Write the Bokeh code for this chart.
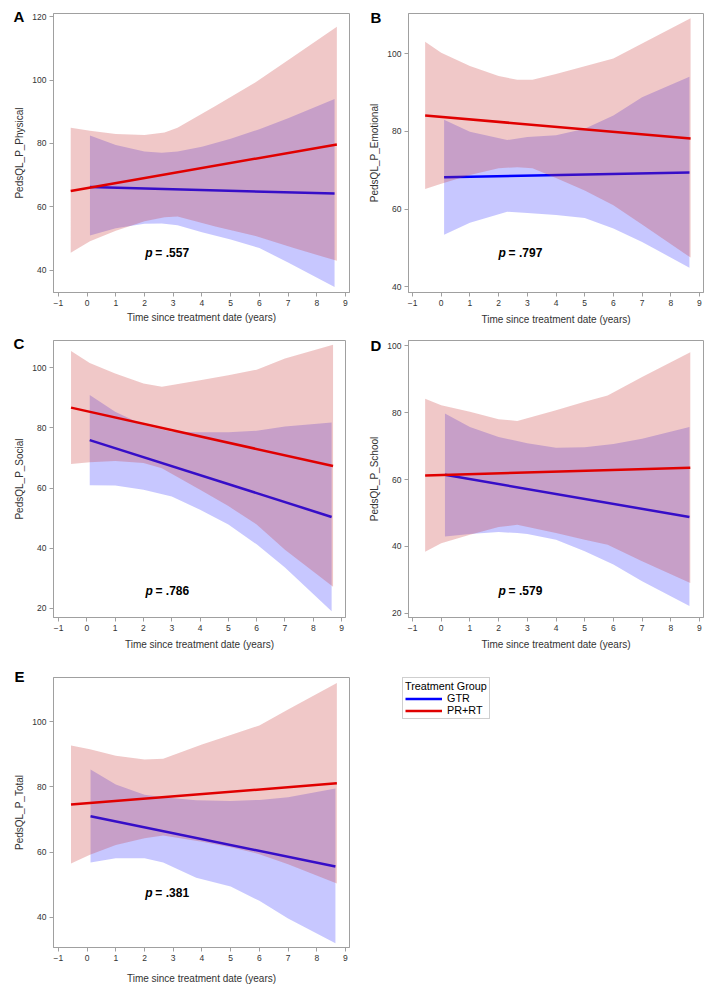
from bokeh.plotting import figure
from bokeh.layouts import column, row
from bokeh.models import (Range1d, SingleIntervalTicker, Label, Legend,
                          LegendItem, Spacer)
from bokeh.embed import file_html
from bokeh.resources import INLINE

# ---------------- data ----------------
# Panel A: PedsQL_P_Physical
A_red_x = [-0.57, 0.1, 1, 2, 2.7, 3.15, 4.5, 5.87, 7.2, 8.7]
A_red_up = [85, 84, 83, 82.7, 83.5, 85, 92, 99.3, 107.5, 116.8]
A_red_lo = [45.5, 49.2, 52.5, 55.5, 56.7, 57, 53.7, 50.8, 47, 43]
A_blue_x = [0.1, 1, 2, 2.6, 3.15, 4, 5, 6, 7, 8.62]
A_blue_up = [82.5, 79.5, 77.5, 77.1, 77.5, 79, 81.5, 84.5, 88, 94]
A_blue_lo = [51, 53.3, 54.7, 54.8, 54.2, 52, 49.7, 47, 42.5, 34.7]
A_red_line_x = [-0.57, 8.7]
A_red_line_y = [65, 79.7]
A_blue_line_x = [0.1, 8.62]
A_blue_line_y = [66.3, 64.2]

# Panel B: PedsQL_P_Emotional
B_red_x = [-0.56, 0, 1, 2, 2.65, 3.18, 4, 5, 6, 7, 8.69]
B_red_up = [103.1, 100.3, 96.9, 94.3, 93.3, 93.3, 94.8, 96.8, 98.8, 102.7, 109.2]
B_red_lo = [65.2, 66.5, 68.8, 70.5, 70.8, 70.5, 68, 64.8, 61, 56, 47.5]
B_blue_x = [0.1, 1, 2.3, 3, 4, 5, 6, 7, 7.5, 8.65]
B_blue_up = [83, 79.9, 77.8, 78.6, 79, 80.7, 84.1, 88.8, 90.4, 94.1]
B_blue_lo = [53.4, 56.5, 59.3, 59, 58.5, 57.7, 55, 51.5, 49.5, 44.9]
B_red_line_x = [-0.56, 8.69]
B_red_line_y = [84.1, 78.2]
B_blue_line_x = [0.1, 8.65]
B_blue_line_y = [68.2, 69.4]

# Panel C: PedsQL_P_Social
C_red_x = [-0.56, 0.1, 1, 2, 2.65, 4, 5, 6, 7, 8.7]
C_red_up = [105.5, 101.5, 98, 94.7, 93.6, 95.8, 97.5, 99.3, 103, 107.6]
C_red_lo = [68, 68.6, 69, 68.3, 66.6, 59.4, 54, 47.9, 39.5, 27.2]
C_blue_x = [0.1, 1, 2, 3, 4, 5, 6, 7, 8.65]
C_blue_up = [90.9, 85.3, 80.9, 78.7, 78.5, 78.5, 79, 80.4, 81.8]
C_blue_lo = [60.9, 60.8, 59.4, 57.2, 52.8, 47.9, 41.3, 33.6, 19.1]
C_red_line_x = [-0.56, 8.7]
C_red_line_y = [86.7, 67.3]
C_blue_line_x = [0.1, 8.65]
C_blue_line_y = [75.9, 50.4]

# Panel D: PedsQL_P_School
D_red_x = [-0.56, 0, 1, 2, 2.65, 4, 5, 5.8, 7, 8.68]
D_red_up = [84.1, 82.2, 80.2, 78, 77.5, 80.7, 83.2, 85.1, 90.6, 98]
D_red_lo = [38.4, 41, 43.5, 45.8, 46.5, 44, 42, 40.5, 35.6, 29.1]
D_blue_x = [0.13, 1, 2, 2.65, 3, 4, 5, 6, 7, 8.65]
D_blue_up = [79.7, 75.7, 72.7, 71.5, 70.8, 69.5, 69.6, 70.6, 72.2, 75.7]
D_blue_lo = [43, 43.7, 44.3, 44, 43.7, 42, 38.6, 34.6, 29.6, 22.2]
D_red_line_x = [-0.56, 8.68]
D_red_line_y = [61.2, 63.5]
D_blue_line_x = [0.13, 8.65]
D_blue_line_y = [61.4, 48.8]

# Panel E: PedsQL_P_Total
E_red_x = [-0.56, 0.1, 1, 2, 2.65, 4, 5, 6, 7, 8.7]
E_red_up = [92.7, 91.5, 89.5, 88.4, 88.6, 93, 95.9, 98.8, 103.7, 111.8]
E_red_lo = [56.5, 59.2, 62.2, 64.3, 65.1, 63.2, 61.5, 59.4, 56.3, 50.4]
E_blue_x = [0.12, 1, 2, 2.65, 3.8, 5, 6, 7, 8.65]
E_blue_up = [85.3, 80.7, 77.6, 76.8, 75.9, 75.7, 76, 76.8, 79.5]
E_blue_lo = [56.8, 58.1, 58.1, 56.8, 52.2, 49.5, 45.1, 39.7, 32.1]
E_red_line_x = [-0.56, 8.7]
E_red_line_y = [74.6, 81.1]
E_blue_line_x = [0.12, 8.65]
E_blue_line_y = [71, 55.6]

letters = ["A", "B", "C", "D", "E"]
y_titles = ["PedsQL_P_Physical", "PedsQL_P_Emotional", "PedsQL_P_Social",
            "PedsQL_P_School", "PedsQL_P_Total"]
p_values = ["= .557", "= .797", "= .786", "= .579", "= .381"]
groups = ["GTR", "PR+RT"]
x_title = "Time since treatment date (years)"

# ---------------- styling / layout ----------------
FONT = "Liberation Sans"
GRAY = "#a0a0a0"
TXT = "#333333"
BLUE_LINE = "#0000FF"
RED_LINE = "#E00000"
BLUE_FILL = "#0000FF"
RED_FILL = "#C83535"


def make_panel(idx, data, xr, yr, geom, p_pos, letter_off, xstand):
    w, h, bl, br, bt, bb = geom
    p = figure(width=w, height=h, output_backend="svg", toolbar_location=None,
               x_range=Range1d(*xr), y_range=Range1d(*yr),
               min_border_left=bl, min_border_right=br,
               min_border_top=bt, min_border_bottom=bb,
               background_fill_color="white", border_fill_color="white",
               outline_line_color=GRAY, outline_line_width=1)
    p.xgrid.visible = False
    p.ygrid.visible = False
    p.xaxis.ticker = SingleIntervalTicker(interval=1)
    p.yaxis.ticker = SingleIntervalTicker(interval=20)
    for ax in (p.xaxis[0], p.yaxis[0]):
        ax.axis_line_color = GRAY
        ax.major_tick_line_color = GRAY
        ax.minor_tick_line_color = None
        ax.major_tick_out = 4
        ax.major_tick_in = 0
        ax.major_label_text_font = FONT
        ax.major_label_text_font_size = "8.5px"
        ax.major_label_text_color = TXT
        ax.major_label_standoff = 3
        ax.axis_label_text_font = FONT
        ax.axis_label_text_font_size = "10px"
        ax.axis_label_text_font_style = "normal"
        ax.axis_label_text_color = TXT
    p.xaxis.axis_label_standoff = xstand
    p.yaxis.axis_label_standoff = 4
    p.xaxis.axis_label = x_title
    p.yaxis.axis_label = y_titles[idx]

    (rx, rup, rlo, bx, bup, blo, rlx, rly, blx, bly) = data
    p.varea(x=bx, y1=blo, y2=bup, fill_color=BLUE_FILL, fill_alpha=0.22)
    p.line(blx, bly, line_color=BLUE_LINE, line_width=2.5)
    p.varea(x=rx, y1=rlo, y2=rup, fill_color=RED_FILL, fill_alpha=0.27)
    p.line(rlx, rly, line_color=RED_LINE, line_width=2.5)

    px, py = p_pos
    p.add_layout(Label(x=px, y=py, text="p", text_font=FONT,
                       text_font_size="12px", text_font_style="bold italic",
                       text_baseline="middle", text_color="black"))
    p.add_layout(Label(x=px, y=py, x_offset=10, text=p_values[idx],
                       text_font=FONT, text_font_size="12px",
                       text_font_style="bold", text_baseline="middle",
                       text_color="black"))
    # panel letter in the left side panel (not clipped by the frame)
    frame_h = h - bt - bb
    dx, dy = letter_off
    p.add_layout(Label(x=dx, y=frame_h + dy, x_units="screen", y_units="screen",
                       text=letters[idx], text_font=FONT,
                       text_font_size="15px", text_font_style="bold",
                       text_baseline="top", text_color="black"), "left")
    return p


pA = make_panel(0, (A_red_x, A_red_up, A_red_lo, A_blue_x, A_blue_up, A_blue_lo,
                    A_red_line_x, A_red_line_y, A_blue_line_x, A_blue_line_y),
                (-1.17, 9.14), (33, 121), (355, 322, 53, 6, 5, 38),
                (2.03, 45.4), (13, 6), 3)
pB = make_panel(1, (B_red_x, B_red_up, B_red_lo, B_blue_x, B_blue_up, B_blue_lo,
                    B_red_line_x, B_red_line_y, B_blue_line_x, B_blue_line_y),
                (-1.14, 9.14), (38.5, 110.4), (357, 322, 53, 9, 2, 37),
                (2.0, 48.6), (15, 1), 5)
pC = make_panel(2, (C_red_x, C_red_up, C_red_lo, C_blue_x, C_blue_up, C_blue_lo,
                    C_red_line_x, C_red_line_y, C_blue_line_x, C_blue_line_y),
                (-1.18, 9.14), (17, 109), (355, 322, 53, 10, 10, 34),
                (2.07, 25.8), (13, 5), 5)
pD = make_panel(3, (D_red_x, D_red_up, D_red_lo, D_blue_x, D_blue_up, D_blue_lo,
                    D_red_line_x, D_red_line_y, D_blue_line_x, D_blue_line_y),
                (-1.14, 9.14), (18.8, 101.5), (357, 322, 53, 9, 10, 34),
                (2.0, 26.6), (15, 3), 5)
pE = make_panel(4, (E_red_x, E_red_up, E_red_lo, E_blue_x, E_blue_up, E_blue_lo,
                    E_red_line_x, E_red_line_y, E_blue_line_x, E_blue_line_y),
                (-1.17, 9.14), (30.8, 113.5), (355, 334, 53, 6, 13, 39),
                (2.03, 47.5), (13, -2), 9)

# legend panel (lower right)
pL = figure(width=357, height=334, output_backend="svg", toolbar_location=None,
            min_border_left=47, min_border_top=25, min_border_right=0,
            min_border_bottom=0, outline_line_color=None,
            x_range=Range1d(0, 1), y_range=Range1d(0, 1),
            x_axis_location=None, y_axis_location=None)
pL.xgrid.visible = False
pL.ygrid.visible = False
r_gtr = pL.line([-5, -4], [-5, -4], line_color=BLUE_LINE, line_width=2.5)
r_prt = pL.line([-5, -4], [-5, -4], line_color=RED_LINE, line_width=2.5)
legend = Legend(items=[LegendItem(label=groups[0], renderers=[r_gtr]),
                       LegendItem(label=groups[1], renderers=[r_prt])],
                location="top_left", title="Treatment Group",
                title_text_font=FONT, title_text_font_size="10.8px",
                title_text_font_style="normal", title_text_color="black",
                title_standoff=0,
                label_text_font=FONT, label_text_font_size="10.8px",
                label_text_color="black",
                glyph_width=37, glyph_height=9, label_height=9,
                label_standoff=5, padding=2, spacing=0, margin=0,
                border_line_color=GRAY, background_fill_alpha=1)
pL.add_layout(legend, "center")

grid = column(row(pA, pB), row(pC, pD), row(pE, pL))
layout = column(Spacer(height=8), grid)

with open("out.html", "w") as f:
    f.write(file_html(layout, INLINE))
